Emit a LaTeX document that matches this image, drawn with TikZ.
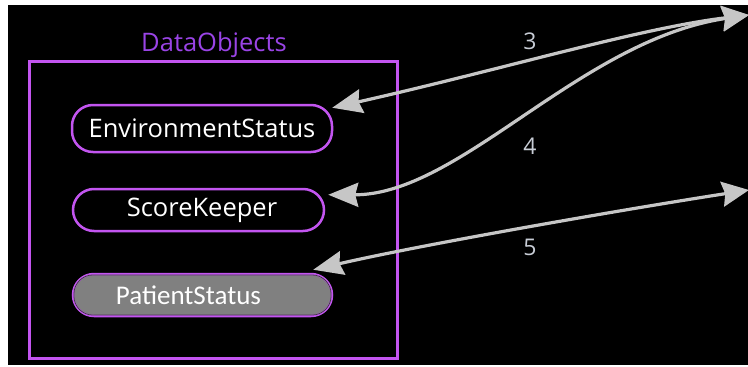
\documentclass[tikz,border=0pt]{standalone}
\usepackage{fontspec}
\setmainfont{Open Sans}
\newfontfamily\altsans{Carlito}
\usetikzlibrary{arrows.meta,calc}
\definecolor{frameviolet}{RGB}{195,85,240}
\definecolor{titleviolet}{RGB}{154,68,230}
\definecolor{linkgray}{RGB}{198,198,198}
\definecolor{labelgray}{RGB}{200,205,214}
\definecolor{fillgray}{RGB}{128,128,128}
\begin{document}
\begin{tikzpicture}[x=1pt,y=-1pt,
  objbox/.style={draw=frameviolet, line width=2.5pt, rounded corners=21pt,
    inner sep=0pt, text=white, font=\fontsize{25.5}{30}\selectfont},
  link/.style={draw=linkgray, line width=3.2pt,
    {Stealth[length=30pt,width=24pt,inset=3pt]}-{Stealth[length=27pt,width=25pt,inset=3pt]}},
  linklabel/.style={text=labelgray, font=\fontsize{23}{27}\selectfont}]
\useasboundingbox (0,0) rectangle (748,367);
\fill[black] (8,5) rectangle (748,365);

% group frame and its title
\draw[frameviolet, line width=3pt] (29,61) rectangle (397,358);
\node[text=titleviolet, font=\fontsize{25.5}{30}\selectfont]
  (title) at (214,45) {DataObjects};

% data objects
\node[objbox, minimum width=260pt, minimum height=47pt] (env) at (202,128.5)
  {\raisebox{-2pt}{EnvironmentStatus}};
\node[objbox, minimum width=251pt, minimum height=42pt] (score) at (198.5,210)
  {\rule{7pt}{0pt}\raisebox{-3pt}{ScoreKeeper}};
\node[objbox, fill=fillgray, minimum width=259pt, minimum height=42pt] (pat) at (202.5,295)
  {\raisebox{-1pt}{\altsans\fontsize{27}{30}\selectfont PatientStatus}\rule{28pt}{0pt}};
\draw[black!75, line width=0.8pt, rounded corners=19pt]
  ($(pat.north west)+(2.2,2.2)$) rectangle ($(pat.south east)+(-2.2,-2.2)$);

% far ends of the links
\coordinate (extA) at (749,15);
\coordinate (extB) at (749,190);

\begin{scope}
\clip (8,5) rectangle (748,365);
\draw[link] ($(env.north east)+(-1,4)$) .. controls (500,70) and (640,28) .. (extA);
\draw[link] ($(score.north east)+(3,7)$) .. controls (460,195) and (580,40) .. (extA);
\draw[link] ($(pat.north east)+(-20,-3)$) .. controls (420,245) and (620,210) .. (extB);
\end{scope}

\node[linklabel] (l3) at (530,41) {3};
\node[linklabel] (l4) at (530,146) {4};
\node[linklabel] (l5) at (530,247) {5};
\end{tikzpicture}
\end{document}
